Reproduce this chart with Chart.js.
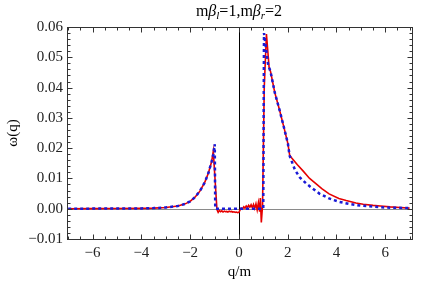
<!DOCTYPE html>
<html><head><meta charset="utf-8">
<script src="https://cdn.jsdelivr.net/npm/chart.js@4"></script>
<style>html,body{margin:0;padding:0;background:#fff}#wrap{width:436px;height:284px}</style>
</head><body><div id="wrap"><canvas id="c" width="436" height="284"></canvas></div>
<script>
const xMajor = [-6,-4,-2,0,2,4,6];
const xTickLabels = ["\u22126","\u22124","\u22122","0","2","4","6"];
const yMajor = [-0.01,0,0.01,0.02,0.03,0.04,0.05,0.06];
const yTickLabels = ["\u22120.01","0.00","0.01","0.02","0.03","0.04","0.05","0.06"];

const qRed = [-7,-6,-5,-4,-3.5,-3,-2.5,-2.2,-2.0,-1.8,-1.6,-1.4,-1.25,-1.12,-1.05,-0.9,-0.85,-0.8,-0.75,-0.7,-0.65,-0.6,-0.55,-0.5,-0.45,-0.4,-0.35,-0.3,-0.25,-0.2,-0.15,-0.1,-0.05,0,0.05,0.1,0.15,0.2,0.25,0.3,0.35,0.4,0.45,0.5,0.55,0.6,0.65,0.7,0.75,0.8,0.85,0.88,0.92,0.97,1.04,1.13,1.24,1.3,1.47,1.67,1.88,2.01,2.08,2.15,2.4,2.63,2.9,3.17,3.4,3.7,4.1,4.4,4.8,5.1,5.5,5.8,6.2,6.6,7];
const wRed = [0,0.00003,0.00006,0.0001,0.0002,0.0004,0.0009,0.0016,0.0024,0.0038,0.0058,0.0087,0.0118,0.0155,0.0190,-0.0003,-0.0012,-0.0006,-0.0010,-0.0007,-0.0011,-0.0008,-0.0010,-0.0009,-0.0011,-0.0008,-0.0010,-0.0009,-0.0011,-0.0010,-0.0012,-0.0011,-0.0013,-0.0012,-0.0004,0.0002,-0.0001,0.0006,0.0002,0.0009,0.0004,0.0011,0.0005,0.0013,0.0003,0.0014,0.0001,0.0016,-0.0004,0.0020,-0.0010,0.0035,-0.0045,0.0010,0.040,0.0577,0.0466,0.0452,0.0384,0.0325,0.0258,0.0215,0.0178,0.0169,0.0145,0.0125,0.0100,0.0082,0.0066,0.0049,0.0034,0.0027,0.0019,0.0015,0.0011,0.0009,0.0006,0.0004,0.0002];

const qBlue = [-7,-6,-5,-4,-3.5,-3,-2.5,-2.2,-2.0,-1.8,-1.6,-1.4,-1.25,-1.12,-1.05,-0.99,-0.97,0,1.0,1.03,1.2,1.3,1.47,1.67,1.88,2.01,2.08,2.3,2.5,2.75,3.0,3.3,3.7,4.1,4.5,5.0,5.5,6.0,6.5,7.0];
const wBlue = [0,0.00003,0.00006,0.0001,0.0002,0.0004,0.0009,0.0016,0.0024,0.0038,0.0058,0.0087,0.0118,0.0155,0.0180,0.0213,0,0,0,0.058,0.0475,0.0452,0.0384,0.0325,0.0258,0.0215,0.0175,0.0128,0.0103,0.0084,0.0068,0.0050,0.0034,0.0023,0.0016,0.0010,0.0007,0.0004,0.0003,0.0002];

const FONT = "'Liberation Serif', 'DejaVu Serif', serif";

const framePlugin = {
  id: 'frame',
  beforeDatasetsDraw(chart) {
    const {ctx, chartArea: a, scales: {x, y}} = chart;
    ctx.save();
    ctx.lineWidth = 1;
    ctx.strokeStyle = '#8a8a8a';
    const y0 = Math.round(y.getPixelForValue(0)) + 0.5;
    ctx.beginPath(); ctx.moveTo(a.left, y0); ctx.lineTo(a.right, y0); ctx.stroke();
    ctx.strokeStyle = '#000';
    const x0 = Math.round(x.getPixelForValue(0)) + 0.5;
    ctx.beginPath(); ctx.moveTo(x0, a.top); ctx.lineTo(x0, a.bottom); ctx.stroke();
    ctx.restore();
  },
  afterDraw(chart) {
    const {ctx, chartArea: a, scales: {x, y}} = chart;
    ctx.save();
    ctx.strokeStyle = '#333';
    ctx.lineWidth = 1;
    const L = Math.round(a.left) + 0.5, R = Math.round(a.right) + 0.5, T = Math.round(a.top) + 0.5, B = Math.round(a.bottom) + 0.5;
    ctx.strokeRect(L, T, R - L, B - T);
    ctx.beginPath();
    for (let v = -7; v <= 7.0001; v += 0.5) {
      const px = Math.round(x.getPixelForValue(v)) + 0.5;
      const major = Math.abs(v / 2 - Math.round(v / 2)) < 1e-6;
      const len = major ? 5 : 3;
      ctx.moveTo(px, B); ctx.lineTo(px, B - len);
      ctx.moveTo(px, T); ctx.lineTo(px, T + len);
    }
    for (let k = -10; k <= 60; k += 2) {
      const v = k / 1000;
      const py = Math.round(y.getPixelForValue(v)) + 0.5;
      const major = k % 10 === 0;
      const len = major ? 5 : 3;
      ctx.moveTo(L, py); ctx.lineTo(L + len, py);
      ctx.moveTo(R, py); ctx.lineTo(R - len, py);
    }
    ctx.stroke();

    const parts = [
      ['m', 'normal', false], ['\u03B2', 'italic', false], ['l', 'italic', true],
      ['=1,m', 'normal', false], ['\u03B2', 'italic', false], ['r', 'italic', true], ['=2', 'normal', false]
    ];
    const fontFor = (p) => (p[1] === 'italic' ? 'italic ' : '') + (p[2] ? '11px ' : '16px ') + FONT;
    let w = 0;
    for (const p of parts) { ctx.font = fontFor(p); w += ctx.measureText(p[0]).width; }
    let cx = 239 - w / 2;
    const baseY = 16;
    ctx.fillStyle = '#000';
    ctx.textBaseline = 'alphabetic';
    ctx.textAlign = 'left';
    for (const p of parts) {
      ctx.font = fontFor(p);
      ctx.fillText(p[0], cx, baseY + (p[2] ? 3 : 0));
      cx += ctx.measureText(p[0]).width;
    }
    ctx.restore();
  }
};

new Chart(document.getElementById('c'), {
  type: 'line',
  data: {
    datasets: [
      {
        label: 'blue',
        data: qBlue.map((q, i) => ({x: q, y: wBlue[i]})),
        borderColor: '#1a1ad6',
        borderWidth: 2.5,
        borderDash: [3, 3],
        pointRadius: 0,
        fill: false,
        tension: 0
      },
      {
        label: 'red',
        data: qRed.map((q, i) => ({x: q, y: wRed[i]})),
        borderColor: '#e60000',
        borderWidth: 1.6,
        pointRadius: 0,
        fill: false,
        tension: 0
      }
    ]
  },
  options: {
    responsive: false,
    animation: false,
    events: [],
    layout: {padding: {left: 0, right: 24, top: 27, bottom: 0}},
    plugins: {legend: {display: false}, tooltip: {enabled: false}, title: {display: false}},
    scales: {
      x: {
        type: 'linear', min: -7.05, max: 7.1,
        afterBuildTicks: (s) => { s.ticks = xMajor.map(v => ({value: v})); },
        afterFit: (s) => { s.height = 45; },
        grid: {display: false, drawTicks: false},
        border: {display: false},
        ticks: {
          autoSkip: false, maxRotation: 0, padding: 5,
          color: '#222', font: {family: FONT, size: 15},
          callback: (v, i) => xTickLabels[i]
        },
        title: {display: true, text: 'q/m', color: '#000', font: {family: FONT, size: 15}, padding: {top: 0, bottom: 3}}
      },
      y: {
        type: 'linear', min: -0.01, max: 0.06,
        afterBuildTicks: (s) => { s.ticks = yMajor.map(v => ({value: v})); },
        afterFit: (s) => { s.width = 67; },
        grid: {display: false, drawTicks: false},
        border: {display: false},
        ticks: {
          autoSkip: false, padding: 4,
          color: '#222', font: {family: FONT, size: 15},
          callback: (v, i) => yTickLabels[i]
        },
        title: {display: true, text: '\u03C9(q)', color: '#000', font: {family: FONT, size: 15}, padding: {top: 4, bottom: 0}}
      }
    }
  },
  plugins: [framePlugin]
});
</script>
</body></html>
